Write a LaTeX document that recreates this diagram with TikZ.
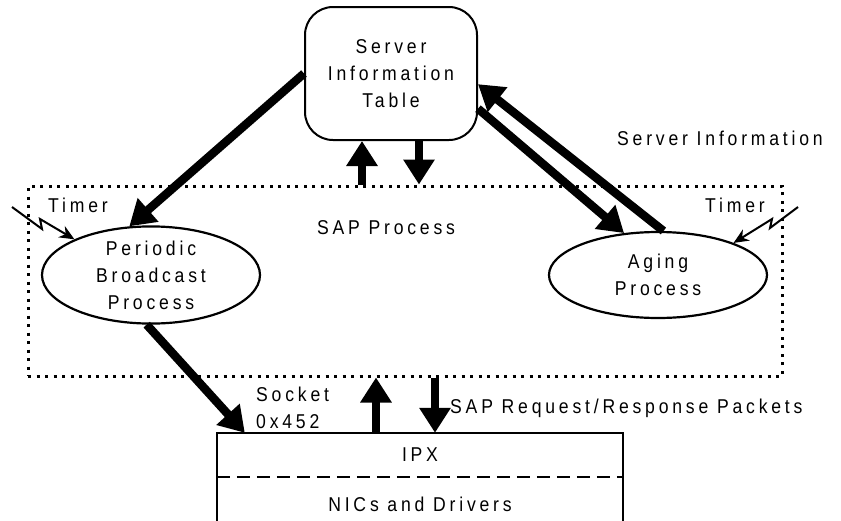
\documentclass[tikz,border=0pt]{standalone}
\usepackage{fontspec}
\setmainfont{Liberation Sans}[LetterSpace=19, FakeStretch=0.88]
\usetikzlibrary{arrows.meta,shapes.geometric}

\begin{document}
\begin{tikzpicture}[x=1pt,y=-1pt,
  every node/.style={font=\fontsize{20}{27}\selectfont, align=center, inner sep=0pt},
  fat/.style={line width=8.5pt, -{Triangle[length=25pt,width=30pt]}},
  bolt/.style={line width=2pt, -{Stealth[length=15pt,width=13pt]}},
  proc/.style={draw, line width=2.2pt, ellipse, minimum width=218pt, minimum height=86pt}]
  \clip (0,0) rectangle (841,520);
  % table and process box
  \node[draw, line width=2pt, rounded corners=28pt, minimum width=172pt, minimum height=133pt] (table) at (391,73.5) {Server\\Information\\Table};
  \node[draw, line width=3pt, dash pattern=on 3pt off 5.5pt, minimum width=754pt, minimum height=190pt] (sap) at (405,281) {};
  \node (saplbl) at (386,228) {SAP Process};
  \node[proc] (pbp) at (151,275) {Periodic\\Broadcast\\Process};
  \node[proc] (aging) at (658,275) {Aging\\Process};
  \node (tmrl) at (78,205) {Timer};
  \node (tmrr) at (735,205) {Timer};
  \node (srvinfo) at (720,138) {Server Information};
  % IPX stack
  \node[minimum width=406pt, minimum height=44pt] (ipx) at (420,455) {IPX};
  \node[anchor=north, minimum width=406pt, minimum height=54pt] (nic) at (ipx.south) {NICs and Drivers};
  \draw[line width=2pt] (nic.south west) -- (ipx.north west) -- (ipx.north east) -- (nic.south east);
  \draw[line width=2pt, dash pattern=on 13pt off 7pt] (ipx.south west) -- (ipx.south east);
  \node[anchor=west, align=left] (sock) at (256,408) {Socket\\0x452};
  \node[anchor=west] (pkts) at (450,408) {SAP Request/Response Packets};
  % timers
  \coordinate (bl) at (12,207);
  \coordinate (br) at (798,207);
  \draw[bolt] (bl) -- ++(30,22) -- ++(-2,-10) -- (pbp.155);
  \draw[bolt] (br) -- ++(-28,21) -- ++(2,-9) -- (aging.23);
  % data flow
  \draw[fat] (table.west) -- (pbp.114);
  \draw[fat] (table.-22) -- (aging.129);
  \draw[fat] (aging.83) -- (table.-7);
  \coordinate (tu) at ([xshift=-29pt]table.south);
  \coordinate (td) at ([xshift=28pt]table.south);
  \draw[fat] (tu |- sap.north) -- (tu);
  \draw[fat] (td) -- (td |- sap.north);
  \coordinate (iu) at ([xshift=-44pt]ipx.north);
  \coordinate (id) at ([xshift=15pt]ipx.north);
  \coordinate (sk) at ([xshift=28pt]ipx.north west);
  \draw[fat] (iu) -- (iu |- sap.south);
  \draw[fat] (id |- sap.south) -- (id);
  \draw[fat] (pbp.-95) -- (sk);
\end{tikzpicture}
\end{document}
